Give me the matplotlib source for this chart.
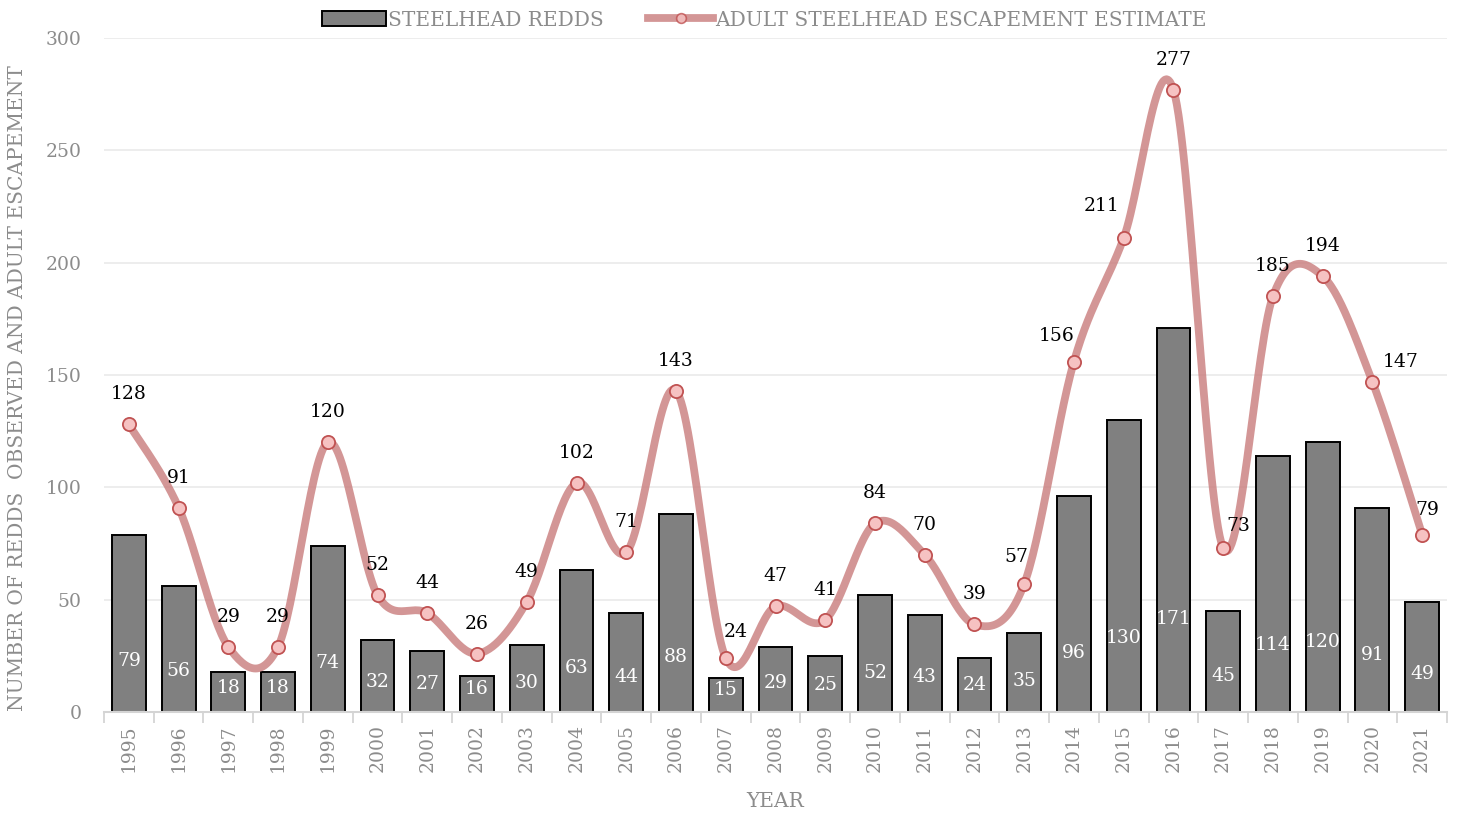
import matplotlib
matplotlib.use("Agg")
import matplotlib.pyplot as plt
import numpy as np
from matplotlib.lines import Line2D
from matplotlib.patches import Patch

plt.rcParams["font.family"] = ["DejaVu Serif"]

years = [str(y) for y in range(1995, 2022)]
redds = [79, 56, 18, 18, 74, 32, 27, 16, 30, 63, 44, 88, 15, 29, 25, 52, 43,
         24, 35, 96, 130, 171, 45, 114, 120, 91, 49]
escapement = [128, 91, 29, 29, 120, 52, 44, 26, 49, 102, 71, 143, 24, 47, 41,
              84, 70, 39, 57, 156, 211, 277, 73, 185, 194, 147, 79]

# label nudges (pixels) for escapement labels that sit off-centre
label_shift = {12: (10, -4), 18: (-8, -3), 19: (-17, -4), 20: (-22, 2),
               22: (15, -8), 25: (28, -10), 26: (5, -5)}

GREY_TXT = "#8c8c8c"
GRID = "#ececec"
LINE_C = "#c97c7c"
NUM_FS = 13.5
TXT_FS = 14.5


def smooth(x, y, n=30):
    # Catmull-Rom style bezier, similar to a spreadsheet "smoothed line"
    x = np.asarray(x, float)
    y = np.asarray(y, float)
    px, py = [], []
    for i in range(len(x) - 1):
        i0, i3 = max(i - 1, 0), min(i + 2, len(x) - 1)
        p0 = np.array([x[i], y[i]])
        p3 = np.array([x[i + 1], y[i + 1]])
        c1 = p0 + (np.array([x[i + 1], y[i + 1]]) - np.array([x[i0], y[i0]])) / 6
        c2 = p3 - (np.array([x[i3], y[i3]]) - np.array([x[i], y[i]])) / 6
        t = np.linspace(0, 1, n)[:, None]
        seg = ((1 - t) ** 3) * p0 + 3 * ((1 - t) ** 2) * t * c1 + 3 * (1 - t) * t ** 2 * c2 + t ** 3 * p3
        px.extend(seg[:, 0])
        py.extend(seg[:, 1])
    return np.array(px), np.array(py)


fig = plt.figure(figsize=(14.61, 8.16), dpi=100)
ax = fig.add_axes([104 / 1461, 1 - 712 / 816, (1447 - 104) / 1461, (712 - 38) / 816])

xs = np.arange(len(years))
ax.bar(xs, redds, width=0.68, color="#808080", edgecolor="black", linewidth=1.4, zorder=2)

for x, v in zip(xs, redds):
    ax.text(x, 0.2 * v + 7, str(v), ha="center", va="center", color="white",
            fontsize=NUM_FS, zorder=3)

sx, sy = smooth(xs, escapement)
ax.plot(sx, sy, color=LINE_C, lw=5.6, alpha=0.8, solid_capstyle="round", zorder=4)
ax.plot(xs, escapement, ls="none", marker="o", ms=9.5, mfc="#f6c2c2", mec="#c05252",
        mew=1.3, zorder=5)

for i, (x, v) in enumerate(zip(xs, escapement)):
    dx, dy = label_shift.get(i, (0, 0))
    ax.annotate(str(v), (x, v), xytext=(dx * 0.72, (30 + dy) * 0.72),
                textcoords="offset points", ha="center", va="center",
                fontsize=NUM_FS, color="black", zorder=6)

ax.set_xlim(-0.5, len(years) - 0.5)
ax.set_ylim(0, 300)
ax.set_yticks(range(0, 301, 50))
ax.yaxis.grid(True, color=GRID, lw=1.3, zorder=0)
ax.set_axisbelow(True)
ax.tick_params(axis="y", length=0, pad=16, labelsize=NUM_FS, labelcolor=GREY_TXT)

ax.set_xticks(xs)
ax.set_xticklabels(years, rotation=90)
ax.set_xticks(np.arange(-0.5, len(years), 1), minor=True)
ax.tick_params(axis="x", which="major", length=0, pad=9, labelsize=NUM_FS, labelcolor=GREY_TXT)
ax.tick_params(axis="x", which="minor", length=8, width=1.3, color="#d4d4d4")

for s in ("left", "right", "top"):
    ax.spines[s].set_visible(False)
ax.spines["bottom"].set_color("#d4d4d4")
ax.spines["bottom"].set_linewidth(1.5)

ax.set_xlabel("YEAR", color=GREY_TXT, fontsize=TXT_FS, labelpad=14)
fig.text(18 / 1461, 1 - 388 / 816, "NUMBER OF REDDS  OBSERVED AND ADULT ESCAPEMENT",
         rotation=90, ha="center", va="center", color=GREY_TXT, fontsize=TXT_FS)

handles = [Patch(facecolor="#808080", edgecolor="black", linewidth=1.4),
           Line2D([0], [0], color=LINE_C, lw=5.6, alpha=0.8, marker="o", ms=7,
                  mfc="#f6c2c2", mec="#c05252", mew=1.2)]
fig.legend(handles, ["STEELHEAD REDDS", "ADULT STEELHEAD ESCAPEMENT ESTIMATE"],
           loc="center", bbox_to_anchor=(764 / 1461, 1 - 20 / 816), ncol=2,
           frameon=False, fontsize=TXT_FS, labelcolor=GREY_TXT, handlelength=3.2,
           handletextpad=0.1, columnspacing=2.2, handleheight=0.8)

fig.savefig("out.png", dpi=100, facecolor="white")
